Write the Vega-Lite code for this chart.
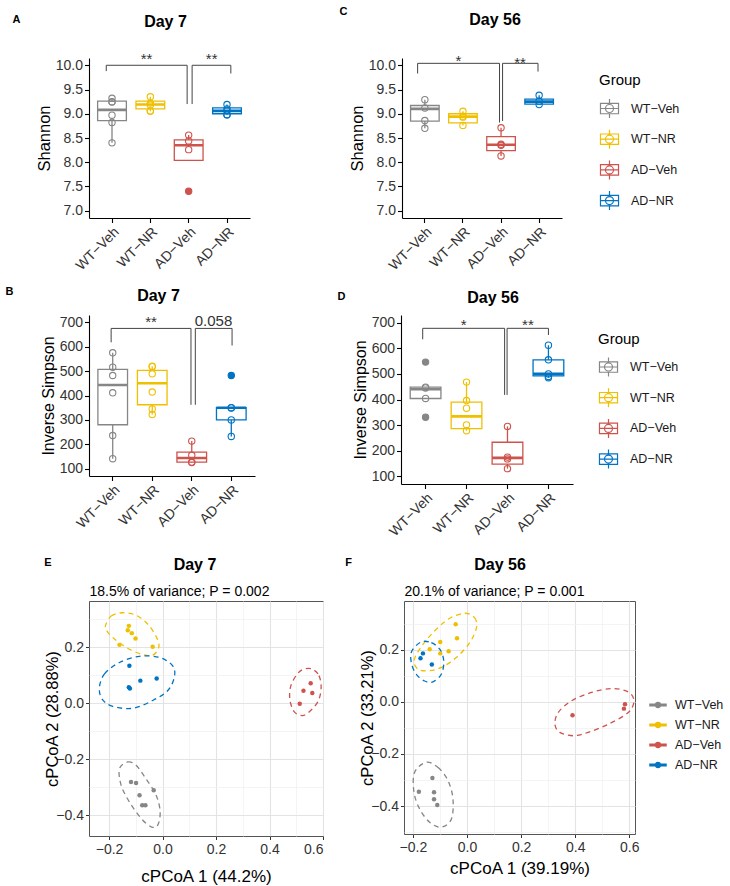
{
"$schema": "https://vega.github.io/schema/vega-lite/v6.json",
"background": "white",
"padding": {"left": 5, "top": 5, "right": 0, "bottom": 0},
"config": {
  "font": "Liberation Sans",
  "view": {"stroke": null},
  "title": {"font": "Liberation Sans", "fontSize": 16, "fontWeight": "bold", "color": "#000000", "anchor": "middle"},
  "axis": {"labelFont": "Liberation Sans", "titleFont": "Liberation Sans", "titleFontWeight": "normal", "titleColor": "#000000", "labelColor": "#333333", "labelOverlap": false},
  "legend": {"labelFont": "Liberation Sans", "titleFont": "Liberation Sans", "titleFontWeight": "normal", "titleColor": "#000000", "labelColor": "#1a1a1a"},
  "text": {"font": "Liberation Sans"}
},
"datasets": {
  "boxes": [
    {"panel": "A", "group": "WT−Veh", "lower": 8.40, "q1": 8.86, "med": 9.08, "q3": 9.26, "upper": 9.32},
    {"panel": "A", "group": "WT−NR", "lower": 9.05, "q1": 9.10, "med": 9.19, "q3": 9.26, "upper": 9.35},
    {"panel": "A", "group": "AD−Veh", "lower": 8.26, "q1": 8.04, "med": 8.35, "q3": 8.46, "upper": 8.56},
    {"panel": "A", "group": "AD−NR", "lower": 8.98, "q1": 9.00, "med": 9.06, "q3": 9.12, "upper": 9.19},
    {"panel": "C", "group": "WT−Veh", "lower": 8.70, "q1": 8.85, "med": 9.10, "q3": 9.17, "upper": 9.29},
    {"panel": "C", "group": "WT−NR", "lower": 8.76, "q1": 8.81, "med": 8.94, "q3": 9.00, "upper": 9.05},
    {"panel": "C", "group": "AD−Veh", "lower": 8.13, "q1": 8.24, "med": 8.36, "q3": 8.53, "upper": 8.71},
    {"panel": "C", "group": "AD−NR", "lower": 9.19, "q1": 9.20, "med": 9.25, "q3": 9.30, "upper": 9.38},
    {"panel": "B", "group": "WT−Veh", "lower": 141, "q1": 280, "med": 443, "q3": 507, "upper": 575},
    {"panel": "B", "group": "WT−NR", "lower": 322, "q1": 362, "med": 450, "q3": 503, "upper": 520},
    {"panel": "B", "group": "AD−Veh", "lower": 125, "q1": 127, "med": 144, "q3": 168, "upper": 213},
    {"panel": "B", "group": "AD−NR", "lower": 232, "q1": 300, "med": 350, "q3": 350, "upper": 350},
    {"panel": "D", "group": "WT−Veh", "lower": 404, "q1": 404, "med": 440, "q3": 448, "upper": 448},
    {"panel": "D", "group": "WT−NR", "lower": 278, "q1": 286, "med": 334, "q3": 390, "upper": 468},
    {"panel": "D", "group": "AD−Veh", "lower": 130, "q1": 148, "med": 172, "q3": 233, "upper": 295},
    {"panel": "D", "group": "AD−NR", "lower": 485, "q1": 492, "med": 500, "q3": 555, "upper": 612}
  ],
  "points": [
    {"panel": "A", "group": "WT−Veh", "value": 9.32, "kind": "obs"},
    {"panel": "A", "group": "WT−Veh", "value": 9.25, "kind": "obs"},
    {"panel": "A", "group": "WT−Veh", "value": 9.24, "kind": "obs"},
    {"panel": "A", "group": "WT−Veh", "value": 8.97, "kind": "obs"},
    {"panel": "A", "group": "WT−Veh", "value": 8.82, "kind": "obs"},
    {"panel": "A", "group": "WT−Veh", "value": 8.40, "kind": "obs"},
    {"panel": "A", "group": "WT−NR", "value": 9.35, "kind": "obs"},
    {"panel": "A", "group": "WT−NR", "value": 9.22, "kind": "obs"},
    {"panel": "A", "group": "WT−NR", "value": 9.18, "kind": "obs"},
    {"panel": "A", "group": "WT−NR", "value": 9.06, "kind": "obs"},
    {"panel": "A", "group": "WT−NR", "value": 9.05, "kind": "obs"},
    {"panel": "A", "group": "AD−Veh", "value": 8.56, "kind": "obs"},
    {"panel": "A", "group": "AD−Veh", "value": 8.44, "kind": "obs"},
    {"panel": "A", "group": "AD−Veh", "value": 8.26, "kind": "obs"},
    {"panel": "A", "group": "AD−Veh", "value": 7.40, "kind": "obs"},
    {"panel": "A", "group": "AD−Veh", "value": 7.40, "kind": "out"},
    {"panel": "A", "group": "AD−NR", "value": 9.19, "kind": "obs"},
    {"panel": "A", "group": "AD−NR", "value": 9.10, "kind": "obs"},
    {"panel": "A", "group": "AD−NR", "value": 9.06, "kind": "obs"},
    {"panel": "A", "group": "AD−NR", "value": 8.98, "kind": "obs"},
    {"panel": "A", "group": "AD−NR", "value": 8.98, "kind": "obs"},
    {"panel": "C", "group": "WT−Veh", "value": 9.29, "kind": "obs"},
    {"panel": "C", "group": "WT−Veh", "value": 9.12, "kind": "obs"},
    {"panel": "C", "group": "WT−Veh", "value": 8.86, "kind": "obs"},
    {"panel": "C", "group": "WT−Veh", "value": 8.70, "kind": "obs"},
    {"panel": "C", "group": "WT−NR", "value": 9.05, "kind": "obs"},
    {"panel": "C", "group": "WT−NR", "value": 8.95, "kind": "obs"},
    {"panel": "C", "group": "WT−NR", "value": 8.93, "kind": "obs"},
    {"panel": "C", "group": "WT−NR", "value": 8.76, "kind": "obs"},
    {"panel": "C", "group": "AD−Veh", "value": 8.71, "kind": "obs"},
    {"panel": "C", "group": "AD−Veh", "value": 8.37, "kind": "obs"},
    {"panel": "C", "group": "AD−Veh", "value": 8.35, "kind": "obs"},
    {"panel": "C", "group": "AD−Veh", "value": 8.13, "kind": "obs"},
    {"panel": "C", "group": "AD−NR", "value": 9.38, "kind": "obs"},
    {"panel": "C", "group": "AD−NR", "value": 9.26, "kind": "obs"},
    {"panel": "C", "group": "AD−NR", "value": 9.19, "kind": "obs"},
    {"panel": "B", "group": "WT−Veh", "value": 575, "kind": "obs"},
    {"panel": "B", "group": "WT−Veh", "value": 516, "kind": "obs"},
    {"panel": "B", "group": "WT−Veh", "value": 482, "kind": "obs"},
    {"panel": "B", "group": "WT−Veh", "value": 411, "kind": "obs"},
    {"panel": "B", "group": "WT−Veh", "value": 236, "kind": "obs"},
    {"panel": "B", "group": "WT−Veh", "value": 141, "kind": "obs"},
    {"panel": "B", "group": "WT−NR", "value": 520, "kind": "obs"},
    {"panel": "B", "group": "WT−NR", "value": 518, "kind": "obs"},
    {"panel": "B", "group": "WT−NR", "value": 489, "kind": "obs"},
    {"panel": "B", "group": "WT−NR", "value": 414, "kind": "obs"},
    {"panel": "B", "group": "WT−NR", "value": 345, "kind": "obs"},
    {"panel": "B", "group": "WT−NR", "value": 322, "kind": "obs"},
    {"panel": "B", "group": "AD−Veh", "value": 213, "kind": "obs"},
    {"panel": "B", "group": "AD−Veh", "value": 155, "kind": "obs"},
    {"panel": "B", "group": "AD−Veh", "value": 127, "kind": "obs"},
    {"panel": "B", "group": "AD−Veh", "value": 125, "kind": "obs"},
    {"panel": "B", "group": "AD−NR", "value": 482, "kind": "obs"},
    {"panel": "B", "group": "AD−NR", "value": 482, "kind": "out"},
    {"panel": "B", "group": "AD−NR", "value": 350, "kind": "obs"},
    {"panel": "B", "group": "AD−NR", "value": 349, "kind": "obs"},
    {"panel": "B", "group": "AD−NR", "value": 300, "kind": "obs"},
    {"panel": "B", "group": "AD−NR", "value": 232, "kind": "obs"},
    {"panel": "D", "group": "WT−Veh", "value": 546, "kind": "obs"},
    {"panel": "D", "group": "WT−Veh", "value": 546, "kind": "out"},
    {"panel": "D", "group": "WT−Veh", "value": 448, "kind": "obs"},
    {"panel": "D", "group": "WT−Veh", "value": 445, "kind": "obs"},
    {"panel": "D", "group": "WT−Veh", "value": 404, "kind": "obs"},
    {"panel": "D", "group": "WT−Veh", "value": 331, "kind": "obs"},
    {"panel": "D", "group": "WT−Veh", "value": 331, "kind": "out"},
    {"panel": "D", "group": "WT−NR", "value": 468, "kind": "obs"},
    {"panel": "D", "group": "WT−NR", "value": 396, "kind": "obs"},
    {"panel": "D", "group": "WT−NR", "value": 366, "kind": "obs"},
    {"panel": "D", "group": "WT−NR", "value": 301, "kind": "obs"},
    {"panel": "D", "group": "WT−NR", "value": 278, "kind": "obs"},
    {"panel": "D", "group": "AD−Veh", "value": 295, "kind": "obs"},
    {"panel": "D", "group": "AD−Veh", "value": 175, "kind": "obs"},
    {"panel": "D", "group": "AD−Veh", "value": 168, "kind": "obs"},
    {"panel": "D", "group": "AD−Veh", "value": 130, "kind": "obs"},
    {"panel": "D", "group": "AD−NR", "value": 612, "kind": "obs"},
    {"panel": "D", "group": "AD−NR", "value": 555, "kind": "obs"},
    {"panel": "D", "group": "AD−NR", "value": 500, "kind": "obs"},
    {"panel": "D", "group": "AD−NR", "value": 490, "kind": "obs"},
    {"panel": "D", "group": "AD−NR", "value": 485, "kind": "obs"}
  ],
  "brackets": [
    {"panel": "A", "x": 0.85, "x2": 2.96, "y": 10.0, "y2": 10.0},
    {"panel": "A", "x": 0.85, "x2": 0.85, "y": 9.88, "y2": 10.0},
    {"panel": "A", "x": 2.96, "x2": 2.96, "y": 9.20, "y2": 10.0},
    {"panel": "A", "x": 3.09, "x2": 4.10, "y": 10.0, "y2": 10.0},
    {"panel": "A", "x": 3.09, "x2": 3.09, "y": 9.20, "y2": 10.0},
    {"panel": "A", "x": 4.10, "x2": 4.10, "y": 9.83, "y2": 10.0},
    {"panel": "C", "x": 0.81, "x2": 2.96, "y": 10.04, "y2": 10.04},
    {"panel": "C", "x": 0.81, "x2": 0.81, "y": 9.83, "y2": 10.04},
    {"panel": "C", "x": 2.96, "x2": 2.96, "y": 8.82, "y2": 10.04},
    {"panel": "C", "x": 3.04, "x2": 3.97, "y": 10.04, "y2": 10.04},
    {"panel": "C", "x": 3.04, "x2": 3.04, "y": 8.85, "y2": 10.04},
    {"panel": "C", "x": 3.97, "x2": 3.97, "y": 9.87, "y2": 10.04},
    {"panel": "B", "x": 0.96, "x2": 2.98, "y": 675, "y2": 675},
    {"panel": "B", "x": 0.96, "x2": 0.96, "y": 618, "y2": 675},
    {"panel": "B", "x": 2.98, "x2": 2.98, "y": 362, "y2": 675},
    {"panel": "B", "x": 3.09, "x2": 4.02, "y": 675, "y2": 675},
    {"panel": "B", "x": 3.09, "x2": 3.09, "y": 362, "y2": 675},
    {"panel": "B", "x": 4.02, "x2": 4.02, "y": 605, "y2": 675},
    {"panel": "D", "x": 0.93, "x2": 2.93, "y": 678, "y2": 678},
    {"panel": "D", "x": 0.93, "x2": 0.93, "y": 635, "y2": 678},
    {"panel": "D", "x": 2.93, "x2": 2.93, "y": 418, "y2": 678},
    {"panel": "D", "x": 2.99, "x2": 4.0, "y": 678, "y2": 678},
    {"panel": "D", "x": 2.99, "x2": 2.99, "y": 418, "y2": 678},
    {"panel": "D", "x": 4.0, "x2": 4.0, "y": 652, "y2": 678}
  ],
  "labels": [
    {"panel": "A", "x": 1.9, "y": 10.03, "label": "**"},
    {"panel": "A", "x": 3.6, "y": 10.03, "label": "**"},
    {"panel": "C", "x": 1.88, "y": 9.98, "label": "*"},
    {"panel": "C", "x": 3.5, "y": 9.95, "label": "**"},
    {"panel": "B", "x": 1.97, "y": 681, "label": "**"},
    {"panel": "B", "x": 3.55, "y": 685, "label": "0.058"},
    {"panel": "D", "x": 1.93, "y": 670, "label": "*"},
    {"panel": "D", "x": 3.5, "y": 670, "label": "**"}
  ],
  "pcoa": [
    {"panel": "E", "group": "WT−NR", "x": -0.126, "y": 0.277},
    {"panel": "E", "group": "WT−NR", "x": -0.130, "y": 0.261},
    {"panel": "E", "group": "WT−NR", "x": -0.115, "y": 0.251},
    {"panel": "E", "group": "WT−NR", "x": -0.101, "y": 0.232},
    {"panel": "E", "group": "WT−NR", "x": -0.161, "y": 0.209},
    {"panel": "E", "group": "WT−NR", "x": -0.037, "y": 0.202},
    {"panel": "E", "group": "AD−NR", "x": -0.124, "y": 0.134},
    {"panel": "E", "group": "AD−NR", "x": -0.083, "y": 0.081},
    {"panel": "E", "group": "AD−NR", "x": -0.022, "y": 0.089},
    {"panel": "E", "group": "AD−NR", "x": -0.126, "y": 0.057},
    {"panel": "E", "group": "AD−NR", "x": -0.122, "y": 0.053},
    {"panel": "E", "group": "AD−Veh", "x": 0.554, "y": 0.072},
    {"panel": "E", "group": "AD−Veh", "x": 0.527, "y": 0.045},
    {"panel": "E", "group": "AD−Veh", "x": 0.560, "y": 0.037},
    {"panel": "E", "group": "AD−Veh", "x": 0.513, "y": -0.002},
    {"panel": "E", "group": "WT−Veh", "x": -0.118, "y": -0.282},
    {"panel": "E", "group": "WT−Veh", "x": -0.099, "y": -0.285},
    {"panel": "E", "group": "WT−Veh", "x": -0.086, "y": -0.329},
    {"panel": "E", "group": "WT−Veh", "x": -0.033, "y": -0.311},
    {"panel": "E", "group": "WT−Veh", "x": -0.076, "y": -0.365},
    {"panel": "E", "group": "WT−Veh", "x": -0.064, "y": -0.365},
    {"panel": "F", "group": "WT−NR", "x": -0.042, "y": 0.298},
    {"panel": "F", "group": "WT−NR", "x": -0.037, "y": 0.244},
    {"panel": "F", "group": "WT−NR", "x": -0.099, "y": 0.230},
    {"panel": "F", "group": "WT−NR", "x": -0.068, "y": 0.194},
    {"panel": "F", "group": "WT−NR", "x": -0.099, "y": 0.186},
    {"panel": "F", "group": "WT−NR", "x": -0.138, "y": 0.202},
    {"panel": "F", "group": "AD−NR", "x": -0.163, "y": 0.186},
    {"panel": "F", "group": "AD−NR", "x": -0.172, "y": 0.167},
    {"panel": "F", "group": "AD−NR", "x": -0.130, "y": 0.143},
    {"panel": "F", "group": "AD−Veh", "x": 0.390, "y": -0.051},
    {"panel": "F", "group": "AD−Veh", "x": 0.584, "y": -0.009},
    {"panel": "F", "group": "AD−Veh", "x": 0.580, "y": -0.026},
    {"panel": "F", "group": "WT−Veh", "x": -0.128, "y": -0.292},
    {"panel": "F", "group": "WT−Veh", "x": -0.178, "y": -0.345},
    {"panel": "F", "group": "WT−Veh", "x": -0.122, "y": -0.347},
    {"panel": "F", "group": "WT−Veh", "x": -0.122, "y": -0.374},
    {"panel": "F", "group": "WT−Veh", "x": -0.110, "y": -0.396}
  ],
  "ellipse": [
    {"panel": "E", "group": "WT−NR", "i": 0, "x": -0.213, "y": 0.279},
    {"panel": "E", "group": "WT−NR", "i": 1, "x": -0.192, "y": 0.312},
    {"panel": "E", "group": "WT−NR", "i": 2, "x": -0.149, "y": 0.324},
    {"panel": "E", "group": "WT−NR", "i": 3, "x": -0.099, "y": 0.315},
    {"panel": "E", "group": "WT−NR", "i": 4, "x": -0.055, "y": 0.283},
    {"panel": "E", "group": "WT−NR", "i": 5, "x": -0.022, "y": 0.235},
    {"panel": "E", "group": "WT−NR", "i": 6, "x": -0.014, "y": 0.200},
    {"panel": "E", "group": "WT−NR", "i": 7, "x": -0.037, "y": 0.172},
    {"panel": "E", "group": "WT−NR", "i": 8, "x": -0.080, "y": 0.176},
    {"panel": "E", "group": "WT−NR", "i": 9, "x": -0.136, "y": 0.200},
    {"panel": "E", "group": "WT−NR", "i": 10, "x": -0.186, "y": 0.235},
    {"panel": "E", "group": "WT−NR", "i": 11, "x": -0.208, "y": 0.259},
    {"panel": "E", "group": "AD−NR", "i": 0, "x": -0.236, "y": 0.057},
    {"panel": "E", "group": "AD−NR", "i": 1, "x": -0.217, "y": 0.105},
    {"panel": "E", "group": "AD−NR", "i": 2, "x": -0.161, "y": 0.146},
    {"panel": "E", "group": "AD−NR", "i": 3, "x": -0.086, "y": 0.168},
    {"panel": "E", "group": "AD−NR", "i": 4, "x": -0.012, "y": 0.164},
    {"panel": "E", "group": "AD−NR", "i": 5, "x": 0.038, "y": 0.134},
    {"panel": "E", "group": "AD−NR", "i": 6, "x": 0.044, "y": 0.093},
    {"panel": "E", "group": "AD−NR", "i": 7, "x": 0.019, "y": 0.045},
    {"panel": "E", "group": "AD−NR", "i": 8, "x": -0.037, "y": 0.010},
    {"panel": "E", "group": "AD−NR", "i": 9, "x": -0.111, "y": -0.018},
    {"panel": "E", "group": "AD−NR", "i": 10, "x": -0.186, "y": -0.011},
    {"panel": "E", "group": "AD−NR", "i": 11, "x": -0.226, "y": 0.015},
    {"panel": "E", "group": "AD−Veh", "i": 0, "x": 0.560, "y": 0.122},
    {"panel": "E", "group": "AD−Veh", "i": 1, "x": 0.585, "y": 0.099},
    {"panel": "E", "group": "AD−Veh", "i": 2, "x": 0.593, "y": 0.057},
    {"panel": "E", "group": "AD−Veh", "i": 3, "x": 0.583, "y": 0.010},
    {"panel": "E", "group": "AD−Veh", "i": 4, "x": 0.554, "y": -0.026},
    {"panel": "E", "group": "AD−Veh", "i": 5, "x": 0.523, "y": -0.044},
    {"panel": "E", "group": "AD−Veh", "i": 6, "x": 0.492, "y": -0.030},
    {"panel": "E", "group": "AD−Veh", "i": 7, "x": 0.476, "y": 0.015},
    {"panel": "E", "group": "AD−Veh", "i": 8, "x": 0.480, "y": 0.063},
    {"panel": "E", "group": "AD−Veh", "i": 9, "x": 0.504, "y": 0.105},
    {"panel": "E", "group": "AD−Veh", "i": 10, "x": 0.529, "y": 0.122},
    {"panel": "E", "group": "WT−Veh", "i": 0, "x": -0.161, "y": -0.234},
    {"panel": "E", "group": "WT−Veh", "i": 1, "x": -0.130, "y": -0.210},
    {"panel": "E", "group": "WT−Veh", "i": 2, "x": -0.099, "y": -0.222},
    {"panel": "E", "group": "WT−Veh", "i": 3, "x": -0.062, "y": -0.270},
    {"panel": "E", "group": "WT−Veh", "i": 4, "x": -0.024, "y": -0.329},
    {"panel": "E", "group": "WT−Veh", "i": 5, "x": -0.009, "y": -0.388},
    {"panel": "E", "group": "WT−Veh", "i": 6, "x": -0.018, "y": -0.436},
    {"panel": "E", "group": "WT−Veh", "i": 7, "x": -0.043, "y": -0.442},
    {"panel": "E", "group": "WT−Veh", "i": 8, "x": -0.080, "y": -0.412},
    {"panel": "E", "group": "WT−Veh", "i": 9, "x": -0.124, "y": -0.353},
    {"panel": "E", "group": "WT−Veh", "i": 10, "x": -0.155, "y": -0.293},
    {"panel": "F", "group": "WT−NR", "i": 0, "x": -0.009, "y": 0.340},
    {"panel": "F", "group": "WT−NR", "i": 1, "x": 0.028, "y": 0.323},
    {"panel": "F", "group": "WT−NR", "i": 2, "x": 0.035, "y": 0.285},
    {"panel": "F", "group": "WT−NR", "i": 3, "x": 0.010, "y": 0.227},
    {"panel": "F", "group": "WT−NR", "i": 4, "x": -0.040, "y": 0.170},
    {"panel": "F", "group": "WT−NR", "i": 5, "x": -0.095, "y": 0.132},
    {"panel": "F", "group": "WT−NR", "i": 6, "x": -0.144, "y": 0.119},
    {"panel": "F", "group": "WT−NR", "i": 7, "x": -0.181, "y": 0.125},
    {"panel": "F", "group": "WT−NR", "i": 8, "x": -0.196, "y": 0.157},
    {"panel": "F", "group": "WT−NR", "i": 9, "x": -0.175, "y": 0.202},
    {"panel": "F", "group": "WT−NR", "i": 10, "x": -0.132, "y": 0.259},
    {"panel": "F", "group": "WT−NR", "i": 11, "x": -0.070, "y": 0.317},
    {"panel": "F", "group": "AD−NR", "i": 0, "x": -0.169, "y": 0.230},
    {"panel": "F", "group": "AD−NR", "i": 1, "x": -0.132, "y": 0.227},
    {"panel": "F", "group": "AD−NR", "i": 2, "x": -0.101, "y": 0.202},
    {"panel": "F", "group": "AD−NR", "i": 3, "x": -0.086, "y": 0.157},
    {"panel": "F", "group": "AD−NR", "i": 4, "x": -0.095, "y": 0.106},
    {"panel": "F", "group": "AD−NR", "i": 5, "x": -0.126, "y": 0.077},
    {"panel": "F", "group": "AD−NR", "i": 6, "x": -0.157, "y": 0.080},
    {"panel": "F", "group": "AD−NR", "i": 7, "x": -0.188, "y": 0.106},
    {"panel": "F", "group": "AD−NR", "i": 8, "x": -0.206, "y": 0.151},
    {"panel": "F", "group": "AD−NR", "i": 9, "x": -0.204, "y": 0.195},
    {"panel": "F", "group": "AD−Veh", "i": 0, "x": 0.325, "y": -0.086},
    {"panel": "F", "group": "AD−Veh", "i": 1, "x": 0.337, "y": -0.041},
    {"panel": "F", "group": "AD−Veh", "i": 2, "x": 0.386, "y": 0.004},
    {"panel": "F", "group": "AD−Veh", "i": 3, "x": 0.460, "y": 0.036},
    {"panel": "F", "group": "AD−Veh", "i": 4, "x": 0.535, "y": 0.051},
    {"panel": "F", "group": "AD−Veh", "i": 5, "x": 0.596, "y": 0.038},
    {"panel": "F", "group": "AD−Veh", "i": 6, "x": 0.617, "y": 0.004},
    {"panel": "F", "group": "AD−Veh", "i": 7, "x": 0.596, "y": -0.041},
    {"panel": "F", "group": "AD−Veh", "i": 8, "x": 0.522, "y": -0.086},
    {"panel": "F", "group": "AD−Veh", "i": 9, "x": 0.448, "y": -0.117},
    {"panel": "F", "group": "AD−Veh", "i": 10, "x": 0.393, "y": -0.130},
    {"panel": "F", "group": "AD−Veh", "i": 11, "x": 0.343, "y": -0.117},
    {"panel": "F", "group": "WT−Veh", "i": 0, "x": -0.151, "y": -0.232},
    {"panel": "F", "group": "WT−Veh", "i": 1, "x": -0.107, "y": -0.252},
    {"panel": "F", "group": "WT−Veh", "i": 2, "x": -0.070, "y": -0.303},
    {"panel": "F", "group": "WT−Veh", "i": 3, "x": -0.052, "y": -0.373},
    {"panel": "F", "group": "WT−Veh", "i": 4, "x": -0.058, "y": -0.450},
    {"panel": "F", "group": "WT−Veh", "i": 5, "x": -0.095, "y": -0.481},
    {"panel": "F", "group": "WT−Veh", "i": 6, "x": -0.138, "y": -0.462},
    {"panel": "F", "group": "WT−Veh", "i": 7, "x": -0.175, "y": -0.411},
    {"panel": "F", "group": "WT−Veh", "i": 8, "x": -0.196, "y": -0.347},
    {"panel": "F", "group": "WT−Veh", "i": 9, "x": -0.194, "y": -0.271}
  ]
},
"spacing": 17,
"resolve": {"scale": {"color": "independent", "stroke": "independent"}, "legend": {"color": "independent", "stroke": "independent"}},
"vconcat": [
 {
 "spacing": 12,
 "resolve": {"scale": {"color": "independent", "stroke": "independent"}, "legend": {"color": "independent", "stroke": "independent"}},
 "vconcat": [
 {
  "spacing": 89,
  "resolve": {"scale": {"color": "independent", "stroke": "independent"}, "legend": {"color": "independent", "stroke": "independent"}},
  "hconcat": [
   {
    "width": 161, "height": 160,
    "view": {"stroke": null},
    "resolve": {"scale": {"x": "independent"}},
    "layer": [
     {"layer": [
      {"data": {"name": "boxes"}, "transform": [{"filter": "datum.panel === 'A'"}],
       "mark": {"type": "rule", "strokeWidth": 1.3},
       "encoding": {
        "x": {"field": "group", "type": "nominal", "scale": {"domain": ["WT−Veh", "WT−NR", "AD−Veh", "AD−NR"], "paddingInner": 0.25, "paddingOuter": 0.225},
              "axis": {"title": "A", "titleX": -77, "titleY": -205, "titleAngle": 0, "titleAlign": "left", "titleBaseline": "top", "titleFontSize": 11, "titleFontWeight": "bold", "labelAngle": -45, "labelAlign": "right", "labelBaseline": "top", "labelFontSize": 14, "labelPadding": 2, "tickSize": 4.5, "tickWidth": 1.1, "tickColor": "#000000", "domainColor": "#000000", "domainWidth": 1.1}},
        "y": {"field": "lower", "type": "quantitative", "scale": {"domain": [6.85, 10.15], "nice": false, "zero": false},
              "axis": {"title": "Shannon", "titleFontSize": 16.5, "titlePadding": 3, "values": [7, 7.5, 8, 8.5, 9, 9.5, 10], "tickCount": 7, "format": ".1f", "labelOverlap": false, "labelFontSize": 14, "labelPadding": 2, "tickSize": 4.5, "tickWidth": 1.1, "tickColor": "#000000", "domainColor": "#000000", "domainWidth": 1.1, "grid": false}},
        "y2": {"field": "upper"},
        "stroke": {"field": "group", "type": "nominal", "scale": {"domain": ["WT−Veh", "WT−NR", "AD−Veh", "AD−NR"], "range": ["#868686", "#EFC000", "#CD534C", "#0073C2"]}, "legend": null}
       }},
      {"data": {"name": "boxes"}, "transform": [{"filter": "datum.panel === 'A'"}],
       "mark": {"type": "bar", "fill": "#ffffff", "strokeWidth": 1.3},
       "encoding": {
        "x": {"field": "group", "type": "nominal"},
        "y": {"field": "q1", "type": "quantitative", "axis": {"title": "Shannon", "titleFontSize": 16.5, "titlePadding": 3, "values": [7, 7.5, 8, 8.5, 9, 9.5, 10], "tickCount": 7, "format": ".1f", "labelOverlap": false, "labelFontSize": 14, "labelPadding": 2, "tickSize": 4.5, "tickWidth": 1.1, "tickColor": "#000000", "domainColor": "#000000", "domainWidth": 1.1, "grid": false}},
        "y2": {"field": "q3"},
        "stroke": {"field": "group", "type": "nominal", "legend": null}
       }},
      {"data": {"name": "boxes"}, "transform": [{"filter": "datum.panel === 'A'"}],
       "mark": {"type": "bar", "fillOpacity": 0, "strokeWidth": 2.6},
       "encoding": {
        "x": {"field": "group", "type": "nominal"},
        "y": {"field": "med", "type": "quantitative", "axis": {"title": "Shannon", "titleFontSize": 16.5, "titlePadding": 3, "values": [7, 7.5, 8, 8.5, 9, 9.5, 10], "tickCount": 7, "format": ".1f", "labelOverlap": false, "labelFontSize": 14, "labelPadding": 2, "tickSize": 4.5, "tickWidth": 1.1, "tickColor": "#000000", "domainColor": "#000000", "domainWidth": 1.1, "grid": false}},
        "y2": {"field": "med"},
        "stroke": {"field": "group", "type": "nominal", "legend": null}
       }},
      {"data": {"name": "points"}, "transform": [{"filter": "datum.panel === 'A' && datum.kind === 'out'"}],
       "mark": {"type": "point", "filled": false, "size": 10, "strokeWidth": 3.2, "opacity": 1},
       "encoding": {
        "x": {"field": "group", "type": "nominal"},
        "y": {"field": "value", "type": "quantitative", "axis": {"title": "Shannon", "titleFontSize": 16.5, "titlePadding": 3, "values": [7, 7.5, 8, 8.5, 9, 9.5, 10], "tickCount": 7, "format": ".1f", "labelOverlap": false, "labelFontSize": 14, "labelPadding": 2, "tickSize": 4.5, "tickWidth": 1.1, "tickColor": "#000000", "domainColor": "#000000", "domainWidth": 1.1, "grid": false}},
        "stroke": {"field": "group", "type": "nominal", "legend": null}
       }},
      {"data": {"name": "points"}, "transform": [{"filter": "datum.panel === 'A' && datum.kind === 'obs'"}],
       "mark": {"type": "point", "filled": false, "size": 40, "strokeWidth": 1.1, "opacity": 1},
       "encoding": {
        "x": {"field": "group", "type": "nominal"},
        "y": {"field": "value", "type": "quantitative", "axis": {"title": "Shannon", "titleFontSize": 16.5, "titlePadding": 3, "values": [7, 7.5, 8, 8.5, 9, 9.5, 10], "tickCount": 7, "format": ".1f", "labelOverlap": false, "labelFontSize": 14, "labelPadding": 2, "tickSize": 4.5, "tickWidth": 1.1, "tickColor": "#000000", "domainColor": "#000000", "domainWidth": 1.1, "grid": false}},
        "stroke": {"field": "group", "type": "nominal", "legend": null}
       }}
     ]},
     {"layer": [
      {"data": {"name": "brackets"}, "transform": [{"filter": "datum.panel === 'A'"}],
       "mark": {"type": "rule", "color": "#444444", "strokeWidth": 1},
       "encoding": {
        "x": {"field": "x", "type": "quantitative", "scale": {"domain": [0.4, 4.6], "nice": false, "zero": false},
              "axis": {"orient": "top", "labels": false, "ticks": false, "domain": false, "grid": false, "title": "Day 7", "titleX": 76, "titleY": -32, "titleAngle": 0, "titleAlign": "center", "titleBaseline": "alphabetic", "titleFontSize": 16, "titleFontWeight": "bold"}},
        "x2": {"field": "x2"},
        "y": {"field": "y", "type": "quantitative", "scale": {"domain": [6.85, 10.15], "nice": false, "zero": false}, "axis": {"title": "Shannon", "titleFontSize": 16.5, "titlePadding": 3, "values": [7, 7.5, 8, 8.5, 9, 9.5, 10], "tickCount": 7, "format": ".1f", "labelOverlap": false, "labelFontSize": 14, "labelPadding": 2, "tickSize": 4.5, "tickWidth": 1.1, "tickColor": "#000000", "domainColor": "#000000", "domainWidth": 1.1, "grid": false}},
        "y2": {"field": "y2"}
       }},
      {"data": {"name": "labels"}, "transform": [{"filter": "datum.panel === 'A'"}],
       "mark": {"type": "text", "fontSize": 15, "baseline": "alphabetic", "color": "#333333"},
       "encoding": {
        "x": {"field": "x", "type": "quantitative", "axis": {"orient": "top", "labels": false, "ticks": false, "domain": false, "grid": false, "title": "Day 7", "titleX": 76, "titleY": -32, "titleAngle": 0, "titleAlign": "center", "titleBaseline": "alphabetic", "titleFontSize": 16, "titleFontWeight": "bold"}},
        "y": {"field": "y", "type": "quantitative", "axis": {"title": "Shannon", "titleFontSize": 16.5, "titlePadding": 3, "values": [7, 7.5, 8, 8.5, 9, 9.5, 10], "tickCount": 7, "format": ".1f", "labelOverlap": false, "labelFontSize": 14, "labelPadding": 2, "tickSize": 4.5, "tickWidth": 1.1, "tickColor": "#000000", "domainColor": "#000000", "domainWidth": 1.1, "grid": false}},
        "text": {"field": "label"}
       }}
     ]}
    ]
   },
   {
    "width": 160, "height": 160,
    "view": {"stroke": null},
    "resolve": {"scale": {"x": "independent"}},
    "layer": [
     {"layer": [
      {"data": {"name": "boxes"}, "transform": [{"filter": "datum.panel === 'C'"}],
       "mark": {"type": "rule", "strokeWidth": 1.3},
       "encoding": {
        "x": {"field": "group", "type": "nominal", "scale": {"domain": ["WT−Veh", "WT−NR", "AD−Veh", "AD−NR"], "paddingInner": 0.25, "paddingOuter": 0.225},
              "axis": {"title": "C", "titleX": -63, "titleY": -213, "titleAngle": 0, "titleAlign": "left", "titleBaseline": "top", "titleFontSize": 11, "titleFontWeight": "bold", "labelAngle": -45, "labelAlign": "right", "labelBaseline": "top", "labelFontSize": 14, "labelPadding": 2, "tickSize": 4.5, "tickWidth": 1.1, "tickColor": "#000000", "domainColor": "#000000", "domainWidth": 1.1}},
        "y": {"field": "lower", "type": "quantitative", "scale": {"domain": [6.85, 10.15], "nice": false, "zero": false},
              "axis": {"title": "Shannon", "titleFontSize": 16.5, "titlePadding": 3, "values": [7, 7.5, 8, 8.5, 9, 9.5, 10], "tickCount": 7, "format": ".1f", "labelOverlap": false, "labelFontSize": 14, "labelPadding": 2, "tickSize": 4.5, "tickWidth": 1.1, "tickColor": "#000000", "domainColor": "#000000", "domainWidth": 1.1, "grid": false}},
        "y2": {"field": "upper"},
        "stroke": {"field": "group", "type": "nominal", "scale": {"domain": ["WT−Veh", "WT−NR", "AD−Veh", "AD−NR"], "range": ["#868686", "#EFC000", "#CD534C", "#0073C2"]}}
       }},
      {"data": {"name": "boxes"}, "transform": [{"filter": "datum.panel === 'C'"}],
       "mark": {"type": "bar", "fill": "#ffffff", "strokeWidth": 1.3},
       "encoding": {
        "x": {"field": "group", "type": "nominal"},
        "y": {"field": "q1", "type": "quantitative", "axis": {"title": "Shannon", "titleFontSize": 16.5, "titlePadding": 3, "values": [7, 7.5, 8, 8.5, 9, 9.5, 10], "tickCount": 7, "format": ".1f", "labelOverlap": false, "labelFontSize": 14, "labelPadding": 2, "tickSize": 4.5, "tickWidth": 1.1, "tickColor": "#000000", "domainColor": "#000000", "domainWidth": 1.1, "grid": false}},
        "y2": {"field": "q3"},
        "stroke": {"field": "group", "type": "nominal",
                   "legend": {"orient": "none", "legendX": 197, "legendY": 15, "title": "Group", "titleFontSize": 15, "titlePadding": 10, "labelFontSize": 12.5, "labelOffset": 11, "rowPadding": 5.7, "symbolType": "M-0.95,-0.55H0.95V0.55H-0.95Z M0,-1V-0.55 M0,0.55V1 M-0.95,0H0.95 M0.42,0A0.42,0.42 0 1,1 -0.42,0A0.42,0.42 0 1,1 0.42,0Z", "symbolSize": 361, "symbolStrokeWidth": 1.2, "symbolFillColor": "#ffffff"}}
       }},
      {"data": {"name": "boxes"}, "transform": [{"filter": "datum.panel === 'C'"}],
       "mark": {"type": "bar", "fillOpacity": 0, "strokeWidth": 2.6},
       "encoding": {
        "x": {"field": "group", "type": "nominal"},
        "y": {"field": "med", "type": "quantitative", "axis": {"title": "Shannon", "titleFontSize": 16.5, "titlePadding": 3, "values": [7, 7.5, 8, 8.5, 9, 9.5, 10], "tickCount": 7, "format": ".1f", "labelOverlap": false, "labelFontSize": 14, "labelPadding": 2, "tickSize": 4.5, "tickWidth": 1.1, "tickColor": "#000000", "domainColor": "#000000", "domainWidth": 1.1, "grid": false}},
        "y2": {"field": "med"},
        "stroke": {"field": "group", "type": "nominal"}
       }},
      {"data": {"name": "points"}, "transform": [{"filter": "datum.panel === 'C' && datum.kind === 'obs'"}],
       "mark": {"type": "point", "filled": false, "size": 40, "strokeWidth": 1.1, "opacity": 1},
       "encoding": {
        "x": {"field": "group", "type": "nominal"},
        "y": {"field": "value", "type": "quantitative", "axis": {"title": "Shannon", "titleFontSize": 16.5, "titlePadding": 3, "values": [7, 7.5, 8, 8.5, 9, 9.5, 10], "tickCount": 7, "format": ".1f", "labelOverlap": false, "labelFontSize": 14, "labelPadding": 2, "tickSize": 4.5, "tickWidth": 1.1, "tickColor": "#000000", "domainColor": "#000000", "domainWidth": 1.1, "grid": false}},
        "stroke": {"field": "group", "type": "nominal"}
       }}
     ]},
     {"layer": [
      {"data": {"name": "brackets"}, "transform": [{"filter": "datum.panel === 'C'"}],
       "mark": {"type": "rule", "color": "#444444", "strokeWidth": 1},
       "encoding": {
        "x": {"field": "x", "type": "quantitative", "scale": {"domain": [0.4, 4.6], "nice": false, "zero": false},
              "axis": {"orient": "top", "labels": false, "ticks": false, "domain": false, "grid": false, "title": "Day 56", "titleX": 92.5, "titleY": -34, "titleAngle": 0, "titleAlign": "center", "titleBaseline": "alphabetic", "titleFontSize": 16, "titleFontWeight": "bold"}},
        "x2": {"field": "x2"},
        "y": {"field": "y", "type": "quantitative", "scale": {"domain": [6.85, 10.15], "nice": false, "zero": false}, "axis": {"title": "Shannon", "titleFontSize": 16.5, "titlePadding": 3, "values": [7, 7.5, 8, 8.5, 9, 9.5, 10], "tickCount": 7, "format": ".1f", "labelOverlap": false, "labelFontSize": 14, "labelPadding": 2, "tickSize": 4.5, "tickWidth": 1.1, "tickColor": "#000000", "domainColor": "#000000", "domainWidth": 1.1, "grid": false}},
        "y2": {"field": "y2"}
       }},
      {"data": {"name": "labels"}, "transform": [{"filter": "datum.panel === 'C'"}],
       "mark": {"type": "text", "fontSize": 15, "baseline": "alphabetic", "color": "#333333"},
       "encoding": {
        "x": {"field": "x", "type": "quantitative", "axis": {"orient": "top", "labels": false, "ticks": false, "domain": false, "grid": false, "title": "Day 56", "titleX": 92.5, "titleY": -34, "titleAngle": 0, "titleAlign": "center", "titleBaseline": "alphabetic", "titleFontSize": 16, "titleFontWeight": "bold"}},
        "y": {"field": "y", "type": "quantitative", "axis": {"title": "Shannon", "titleFontSize": 16.5, "titlePadding": 3, "values": [7, 7.5, 8, 8.5, 9, 9.5, 10], "tickCount": 7, "format": ".1f", "labelOverlap": false, "labelFontSize": 14, "labelPadding": 2, "tickSize": 4.5, "tickWidth": 1.1, "tickColor": "#000000", "domainColor": "#000000", "domainWidth": 1.1, "grid": false}},
        "text": {"field": "label"}
       }}
     ]}
    ]
   }
  ]
 },
 {
  "spacing": 82,
  "resolve": {"scale": {"color": "independent", "stroke": "independent"}, "legend": {"color": "independent", "stroke": "independent"}},
  "hconcat": [
   {
    "width": 166, "height": 161,
    "view": {"stroke": null},
    "resolve": {"scale": {"x": "independent"}},
    "layer": [
     {"layer": [
      {"data": {"name": "boxes"}, "transform": [{"filter": "datum.panel === 'B'"}],
       "mark": {"type": "rule", "strokeWidth": 1.3},
       "encoding": {
        "x": {"field": "group", "type": "nominal", "scale": {"domain": ["WT−Veh", "WT−NR", "AD−Veh", "AD−NR"], "paddingInner": 0.25, "paddingOuter": 0.225},
              "axis": {"title": "B", "titleX": -84, "titleY": -191, "titleAngle": 0, "titleAlign": "left", "titleBaseline": "top", "titleFontSize": 11, "titleFontWeight": "bold", "labelAngle": -45, "labelAlign": "right", "labelBaseline": "top", "labelFontSize": 14, "labelPadding": 2, "tickSize": 4.5, "tickWidth": 1.1, "tickColor": "#000000", "domainColor": "#000000", "domainWidth": 1.1}},
        "y": {"field": "lower", "type": "quantitative", "scale": {"domain": [70, 730], "nice": false, "zero": false},
              "axis": {"title": "Inverse Simpson", "titleFontSize": 16, "titlePadding": 3, "values": [100, 200, 300, 400, 500, 600, 700], "tickCount": 7, "format": "d", "labelOverlap": false, "labelFontSize": 14, "labelPadding": 2, "tickSize": 4.5, "tickWidth": 1.1, "tickColor": "#000000", "domainColor": "#000000", "domainWidth": 1.1, "grid": false}},
        "y2": {"field": "upper"},
        "stroke": {"field": "group", "type": "nominal", "scale": {"domain": ["WT−Veh", "WT−NR", "AD−Veh", "AD−NR"], "range": ["#868686", "#EFC000", "#CD534C", "#0073C2"]}, "legend": null}
       }},
      {"data": {"name": "boxes"}, "transform": [{"filter": "datum.panel === 'B'"}],
       "mark": {"type": "bar", "fill": "#ffffff", "strokeWidth": 1.3},
       "encoding": {
        "x": {"field": "group", "type": "nominal"},
        "y": {"field": "q1", "type": "quantitative", "axis": {"title": "Inverse Simpson", "titleFontSize": 16, "titlePadding": 3, "values": [100, 200, 300, 400, 500, 600, 700], "tickCount": 7, "format": "d", "labelOverlap": false, "labelFontSize": 14, "labelPadding": 2, "tickSize": 4.5, "tickWidth": 1.1, "tickColor": "#000000", "domainColor": "#000000", "domainWidth": 1.1, "grid": false}},
        "y2": {"field": "q3"},
        "stroke": {"field": "group", "type": "nominal", "legend": null}
       }},
      {"data": {"name": "boxes"}, "transform": [{"filter": "datum.panel === 'B'"}],
       "mark": {"type": "bar", "fillOpacity": 0, "strokeWidth": 2.6},
       "encoding": {
        "x": {"field": "group", "type": "nominal"},
        "y": {"field": "med", "type": "quantitative", "axis": {"title": "Inverse Simpson", "titleFontSize": 16, "titlePadding": 3, "values": [100, 200, 300, 400, 500, 600, 700], "tickCount": 7, "format": "d", "labelOverlap": false, "labelFontSize": 14, "labelPadding": 2, "tickSize": 4.5, "tickWidth": 1.1, "tickColor": "#000000", "domainColor": "#000000", "domainWidth": 1.1, "grid": false}},
        "y2": {"field": "med"},
        "stroke": {"field": "group", "type": "nominal", "legend": null}
       }},
      {"data": {"name": "points"}, "transform": [{"filter": "datum.panel === 'B' && datum.kind === 'out'"}],
       "mark": {"type": "point", "filled": false, "size": 10, "strokeWidth": 3.2, "opacity": 1},
       "encoding": {
        "x": {"field": "group", "type": "nominal"},
        "y": {"field": "value", "type": "quantitative", "axis": {"title": "Inverse Simpson", "titleFontSize": 16, "titlePadding": 3, "values": [100, 200, 300, 400, 500, 600, 700], "tickCount": 7, "format": "d", "labelOverlap": false, "labelFontSize": 14, "labelPadding": 2, "tickSize": 4.5, "tickWidth": 1.1, "tickColor": "#000000", "domainColor": "#000000", "domainWidth": 1.1, "grid": false}},
        "stroke": {"field": "group", "type": "nominal", "legend": null}
       }},
      {"data": {"name": "points"}, "transform": [{"filter": "datum.panel === 'B' && datum.kind === 'obs'"}],
       "mark": {"type": "point", "filled": false, "size": 40, "strokeWidth": 1.1, "opacity": 1},
       "encoding": {
        "x": {"field": "group", "type": "nominal"},
        "y": {"field": "value", "type": "quantitative", "axis": {"title": "Inverse Simpson", "titleFontSize": 16, "titlePadding": 3, "values": [100, 200, 300, 400, 500, 600, 700], "tickCount": 7, "format": "d", "labelOverlap": false, "labelFontSize": 14, "labelPadding": 2, "tickSize": 4.5, "tickWidth": 1.1, "tickColor": "#000000", "domainColor": "#000000", "domainWidth": 1.1, "grid": false}},
        "stroke": {"field": "group", "type": "nominal", "legend": null}
       }}
     ]},
     {"layer": [
      {"data": {"name": "brackets"}, "transform": [{"filter": "datum.panel === 'B'"}],
       "mark": {"type": "rule", "color": "#444444", "strokeWidth": 1},
       "encoding": {
        "x": {"field": "x", "type": "quantitative", "scale": {"domain": [0.4, 4.6], "nice": false, "zero": false},
              "axis": {"orient": "top", "labels": false, "ticks": false, "domain": false, "grid": false, "title": "Day 7", "titleX": 69, "titleY": -15, "titleAngle": 0, "titleAlign": "center", "titleBaseline": "alphabetic", "titleFontSize": 16, "titleFontWeight": "bold"}},
        "x2": {"field": "x2"},
        "y": {"field": "y", "type": "quantitative", "scale": {"domain": [70, 730], "nice": false, "zero": false}, "axis": {"title": "Inverse Simpson", "titleFontSize": 16, "titlePadding": 3, "values": [100, 200, 300, 400, 500, 600, 700], "tickCount": 7, "format": "d", "labelOverlap": false, "labelFontSize": 14, "labelPadding": 2, "tickSize": 4.5, "tickWidth": 1.1, "tickColor": "#000000", "domainColor": "#000000", "domainWidth": 1.1, "grid": false}},
        "y2": {"field": "y2"}
       }},
      {"data": {"name": "labels"}, "transform": [{"filter": "datum.panel === 'B'"}],
       "mark": {"type": "text", "fontSize": 15, "baseline": "alphabetic", "color": "#333333"},
       "encoding": {
        "x": {"field": "x", "type": "quantitative", "axis": {"orient": "top", "labels": false, "ticks": false, "domain": false, "grid": false, "title": "Day 7", "titleX": 69, "titleY": -15, "titleAngle": 0, "titleAlign": "center", "titleBaseline": "alphabetic", "titleFontSize": 16, "titleFontWeight": "bold"}},
        "y": {"field": "y", "type": "quantitative", "axis": {"title": "Inverse Simpson", "titleFontSize": 16, "titlePadding": 3, "values": [100, 200, 300, 400, 500, 600, 700], "tickCount": 7, "format": "d", "labelOverlap": false, "labelFontSize": 14, "labelPadding": 2, "tickSize": 4.5, "tickWidth": 1.1, "tickColor": "#000000", "domainColor": "#000000", "domainWidth": 1.1, "grid": false}},
        "text": {"field": "label"}
       }}
     ]}
    ]
   },
   {
    "width": 172, "height": 169,
    "view": {"stroke": null},
    "resolve": {"scale": {"x": "independent"}},
    "layer": [
     {"layer": [
      {"data": {"name": "boxes"}, "transform": [{"filter": "datum.panel === 'D'"}],
       "mark": {"type": "rule", "strokeWidth": 1.3},
       "encoding": {
        "x": {"field": "group", "type": "nominal", "scale": {"domain": ["WT−Veh", "WT−NR", "AD−Veh", "AD−NR"], "paddingInner": 0.25, "paddingOuter": 0.225},
              "axis": {"title": "D", "titleX": -64, "titleY": -194, "titleAngle": 0, "titleAlign": "left", "titleBaseline": "top", "titleFontSize": 11, "titleFontWeight": "bold", "labelAngle": -45, "labelAlign": "right", "labelBaseline": "top", "labelFontSize": 14, "labelPadding": 2, "tickSize": 4.5, "tickWidth": 1.1, "tickColor": "#000000", "domainColor": "#000000", "domainWidth": 1.1}},
        "y": {"field": "lower", "type": "quantitative", "scale": {"domain": [70, 730], "nice": false, "zero": false},
              "axis": {"title": "Inverse Simpson", "titleFontSize": 16, "titlePadding": 3, "values": [100, 200, 300, 400, 500, 600, 700], "tickCount": 7, "format": "d", "labelOverlap": false, "labelFontSize": 14, "labelPadding": 2, "tickSize": 4.5, "tickWidth": 1.1, "tickColor": "#000000", "domainColor": "#000000", "domainWidth": 1.1, "grid": false}},
        "y2": {"field": "upper"},
        "stroke": {"field": "group", "type": "nominal", "scale": {"domain": ["WT−Veh", "WT−NR", "AD−Veh", "AD−NR"], "range": ["#868686", "#EFC000", "#CD534C", "#0073C2"]}}
       }},
      {"data": {"name": "boxes"}, "transform": [{"filter": "datum.panel === 'D'"}],
       "mark": {"type": "bar", "fill": "#ffffff", "strokeWidth": 1.3},
       "encoding": {
        "x": {"field": "group", "type": "nominal"},
        "y": {"field": "q1", "type": "quantitative", "axis": {"title": "Inverse Simpson", "titleFontSize": 16, "titlePadding": 3, "values": [100, 200, 300, 400, 500, 600, 700], "tickCount": 7, "format": "d", "labelOverlap": false, "labelFontSize": 14, "labelPadding": 2, "tickSize": 4.5, "tickWidth": 1.1, "tickColor": "#000000", "domainColor": "#000000", "domainWidth": 1.1, "grid": false}},
        "y2": {"field": "q3"},
        "stroke": {"field": "group", "type": "nominal",
                   "legend": {"orient": "none", "legendX": 197, "legendY": 16.5, "title": "Group", "titleFontSize": 15, "titlePadding": 10, "labelFontSize": 12.5, "labelOffset": 11, "rowPadding": 5.7, "symbolType": "M-0.95,-0.55H0.95V0.55H-0.95Z M0,-1V-0.55 M0,0.55V1 M-0.95,0H0.95 M0.42,0A0.42,0.42 0 1,1 -0.42,0A0.42,0.42 0 1,1 0.42,0Z", "symbolSize": 361, "symbolStrokeWidth": 1.2, "symbolFillColor": "#ffffff"}}
       }},
      {"data": {"name": "boxes"}, "transform": [{"filter": "datum.panel === 'D'"}],
       "mark": {"type": "bar", "fillOpacity": 0, "strokeWidth": 2.6},
       "encoding": {
        "x": {"field": "group", "type": "nominal"},
        "y": {"field": "med", "type": "quantitative", "axis": {"title": "Inverse Simpson", "titleFontSize": 16, "titlePadding": 3, "values": [100, 200, 300, 400, 500, 600, 700], "tickCount": 7, "format": "d", "labelOverlap": false, "labelFontSize": 14, "labelPadding": 2, "tickSize": 4.5, "tickWidth": 1.1, "tickColor": "#000000", "domainColor": "#000000", "domainWidth": 1.1, "grid": false}},
        "y2": {"field": "med"},
        "stroke": {"field": "group", "type": "nominal"}
       }},
      {"data": {"name": "points"}, "transform": [{"filter": "datum.panel === 'D' && datum.kind === 'out'"}],
       "mark": {"type": "point", "filled": false, "size": 10, "strokeWidth": 3.2, "opacity": 1},
       "encoding": {
        "x": {"field": "group", "type": "nominal"},
        "y": {"field": "value", "type": "quantitative", "axis": {"title": "Inverse Simpson", "titleFontSize": 16, "titlePadding": 3, "values": [100, 200, 300, 400, 500, 600, 700], "tickCount": 7, "format": "d", "labelOverlap": false, "labelFontSize": 14, "labelPadding": 2, "tickSize": 4.5, "tickWidth": 1.1, "tickColor": "#000000", "domainColor": "#000000", "domainWidth": 1.1, "grid": false}},
        "stroke": {"field": "group", "type": "nominal"}
       }},
      {"data": {"name": "points"}, "transform": [{"filter": "datum.panel === 'D' && datum.kind === 'obs'"}],
       "mark": {"type": "point", "filled": false, "size": 40, "strokeWidth": 1.1, "opacity": 1},
       "encoding": {
        "x": {"field": "group", "type": "nominal"},
        "y": {"field": "value", "type": "quantitative", "axis": {"title": "Inverse Simpson", "titleFontSize": 16, "titlePadding": 3, "values": [100, 200, 300, 400, 500, 600, 700], "tickCount": 7, "format": "d", "labelOverlap": false, "labelFontSize": 14, "labelPadding": 2, "tickSize": 4.5, "tickWidth": 1.1, "tickColor": "#000000", "domainColor": "#000000", "domainWidth": 1.1, "grid": false}},
        "stroke": {"field": "group", "type": "nominal"}
       }}
     ]},
     {"layer": [
      {"data": {"name": "brackets"}, "transform": [{"filter": "datum.panel === 'D'"}],
       "mark": {"type": "rule", "color": "#444444", "strokeWidth": 1},
       "encoding": {
        "x": {"field": "x", "type": "quantitative", "scale": {"domain": [0.4, 4.6], "nice": false, "zero": false},
              "axis": {"orient": "top", "labels": false, "ticks": false, "domain": false, "grid": false, "title": "Day 56", "titleX": 91.5, "titleY": -13, "titleAngle": 0, "titleAlign": "center", "titleBaseline": "alphabetic", "titleFontSize": 16, "titleFontWeight": "bold"}},
        "x2": {"field": "x2"},
        "y": {"field": "y", "type": "quantitative", "scale": {"domain": [70, 730], "nice": false, "zero": false}, "axis": {"title": "Inverse Simpson", "titleFontSize": 16, "titlePadding": 3, "values": [100, 200, 300, 400, 500, 600, 700], "tickCount": 7, "format": "d", "labelOverlap": false, "labelFontSize": 14, "labelPadding": 2, "tickSize": 4.5, "tickWidth": 1.1, "tickColor": "#000000", "domainColor": "#000000", "domainWidth": 1.1, "grid": false}},
        "y2": {"field": "y2"}
       }},
      {"data": {"name": "labels"}, "transform": [{"filter": "datum.panel === 'D'"}],
       "mark": {"type": "text", "fontSize": 15, "baseline": "alphabetic", "color": "#333333"},
       "encoding": {
        "x": {"field": "x", "type": "quantitative", "axis": {"orient": "top", "labels": false, "ticks": false, "domain": false, "grid": false, "title": "Day 56", "titleX": 91.5, "titleY": -13, "titleAngle": 0, "titleAlign": "center", "titleBaseline": "alphabetic", "titleFontSize": 16, "titleFontWeight": "bold"}},
        "y": {"field": "y", "type": "quantitative", "axis": {"title": "Inverse Simpson", "titleFontSize": 16, "titlePadding": 3, "values": [100, 200, 300, 400, 500, 600, 700], "tickCount": 7, "format": "d", "labelOverlap": false, "labelFontSize": 14, "labelPadding": 2, "tickSize": 4.5, "tickWidth": 1.1, "tickColor": "#000000", "domainColor": "#000000", "domainWidth": 1.1, "grid": false}},
        "text": {"field": "label"}
       }}
     ]}
    ]
   }
  ]
 }
 ]
 },
 {
  "spacing": 20,
  "resolve": {"scale": {"color": "independent", "stroke": "independent"}, "legend": {"color": "independent", "stroke": "independent"}},
  "hconcat": [
   {
    "title": {"text": "E", "anchor": "start", "frame": "bounds", "offset": -11, "dx": 0, "fontSize": 11, "fontWeight": "bold"},
    "resolve": {"scale": {"color": "independent", "stroke": "independent"}, "legend": {"color": "independent", "stroke": "independent"}},
    "vconcat": [
     {
      "width": 234, "height": 235,
      "title": {"text": "Day 7", "frame": "group", "offset": 11, "dx": -11},
      "view": {"stroke": "#555555", "strokeWidth": 1},
      "resolve": {"axis": {"x": "independent", "y": "independent"}},
      "layer": [
       {"data": {"name": "ellipse"}, "transform": [{"filter": "datum.panel === 'E'"}],
        "mark": {"type": "line", "interpolate": "cardinal-closed", "strokeDash": [5, 4], "strokeWidth": 1.3},
        "encoding": {
         "x": {"field": "x", "type": "quantitative", "scale": {"domain": [-0.275, 0.6], "nice": false, "zero": false},
               "axis": {"orient": "top", "values": [-0.1, 0.1, 0.3, 0.5], "grid": true, "gridColor": "#EFEFEF", "gridWidth": 0.7, "labels": false, "ticks": false, "domain": false, "title": "18.5% of variance; P = 0.002", "titleAnchor": "start", "titleAlign": "left", "titleFontSize": 14, "titlePadding": 3}},
         "y": {"field": "y", "type": "quantitative", "scale": {"domain": [-0.475, 0.366], "nice": false, "zero": false},
               "axis": {"orient": "right", "values": [0.3, 0.1, -0.1, -0.3], "grid": true, "gridColor": "#EFEFEF", "gridWidth": 0.7, "labels": false, "ticks": false, "domain": false, "title": null}},
         "color": {"field": "group", "type": "nominal", "scale": {"domain": ["WT−Veh", "WT−NR", "AD−Veh", "AD−NR"], "range": ["#868686", "#EFC000", "#CD534C", "#0073C2"]}, "legend": null},
         "order": {"field": "i", "type": "quantitative"}
        }},
       {"data": {"name": "pcoa"}, "transform": [{"filter": "datum.panel === 'E'"}],
        "mark": {"type": "point", "filled": true, "size": 20, "opacity": 1},
        "encoding": {
         "x": {"field": "x", "type": "quantitative",
               "axis": {"values": [-0.2, 0, 0.2, 0.4, 0.6], "format": ".1f", "grid": true, "gridColor": "#E3E3E3", "gridWidth": 1.1, "domain": false, "tickSize": 3.5, "tickColor": "#333333", "labelFontSize": 14, "labelPadding": 3, "title": "cPCoA 1 (44.2%)", "titleFontSize": 17, "titlePadding": 12}},
         "y": {"field": "y", "type": "quantitative",
               "axis": {"values": [-0.4, -0.2, 0, 0.2], "format": ".1f", "grid": true, "gridColor": "#E3E3E3", "gridWidth": 1.1, "domain": false, "tickSize": 3.5, "tickColor": "#333333", "labelFontSize": 14, "labelPadding": 2, "title": "cPCoA 2 (28.88%)", "titleFontSize": 16.5, "titlePadding": -5}},
         "color": {"field": "group", "type": "nominal", "legend": null}
        }}
      ]
     }
    ]
   },
   {
    "title": {"text": "F", "anchor": "start", "frame": "bounds", "offset": -11, "dx": -14, "fontSize": 11, "fontWeight": "bold"},
    "resolve": {"scale": {"color": "independent", "stroke": "independent"}, "legend": {"color": "independent", "stroke": "independent"}},
    "vconcat": [
     {
      "width": 231, "height": 233,
      "title": {"text": "Day 56", "frame": "group", "offset": 11, "dx": -19.5},
      "view": {"stroke": "#555555", "strokeWidth": 1},
      "resolve": {"axis": {"x": "independent", "y": "independent"}},
      "layer": [
       {"data": {"name": "ellipse"}, "transform": [{"filter": "datum.panel === 'F'"}],
        "mark": {"type": "line", "interpolate": "cardinal-closed", "strokeDash": [5, 4], "strokeWidth": 1.3},
        "encoding": {
         "x": {"field": "x", "type": "quantitative", "scale": {"domain": [-0.233, 0.621], "nice": false, "zero": false},
               "axis": {"orient": "top", "values": [-0.1, 0.1, 0.3, 0.5], "grid": true, "gridColor": "#EFEFEF", "gridWidth": 0.7, "labels": false, "ticks": false, "domain": false, "title": "20.1% of variance; P = 0.001", "titleAnchor": "start", "titleAlign": "left", "titleFontSize": 14, "titlePadding": 3}},
         "y": {"field": "y", "type": "quantitative", "scale": {"domain": [-0.507, 0.387], "nice": false, "zero": false},
               "axis": {"orient": "right", "values": [0.3, 0.1, -0.1, -0.3, -0.5], "grid": true, "gridColor": "#EFEFEF", "gridWidth": 0.7, "labels": false, "ticks": false, "domain": false, "title": null}},
         "color": {"field": "group", "type": "nominal", "scale": {"domain": ["WT−Veh", "WT−NR", "AD−Veh", "AD−NR"], "range": ["#868686", "#EFC000", "#CD534C", "#0073C2"]}},
         "order": {"field": "i", "type": "quantitative"}
        }},
       {"data": {"name": "pcoa"}, "transform": [{"filter": "datum.panel === 'F'"}],
        "mark": {"type": "point", "filled": true, "size": 20, "opacity": 1},
        "encoding": {
         "x": {"field": "x", "type": "quantitative",
               "axis": {"values": [-0.2, 0, 0.2, 0.4, 0.6], "format": ".1f", "grid": true, "gridColor": "#E3E3E3", "gridWidth": 1.1, "domain": false, "tickSize": 3.5, "tickColor": "#333333", "labelFontSize": 14, "labelPadding": 3, "title": "cPCoA 1 (39.19%)", "titleFontSize": 17, "titlePadding": 6}},
         "y": {"field": "y", "type": "quantitative",
               "axis": {"values": [-0.4, -0.2, 0, 0.2], "format": ".1f", "grid": true, "gridColor": "#E3E3E3", "gridWidth": 1.1, "domain": false, "tickSize": 3.5, "tickColor": "#333333", "labelFontSize": 14, "labelPadding": 2, "title": "cPCoA 2 (33.21%)", "titleFontSize": 16.5, "titlePadding": -5}},
         "color": {"field": "group", "type": "nominal",
                   "legend": {"orient": "none", "legendX": 245, "legendY": 95, "title": null, "labelFontSize": 12.5, "labelOffset": 8, "rowPadding": 4, "symbolType": "M-1,-0.09H-0.45V0.09H-1Z M0.45,-0.09H1V0.09H0.45Z M0.3,0A0.3,0.3 0 1,1 -0.3,0A0.3,0.3 0 1,1 0.3,0Z", "symbolSize": 256}}
        }}
      ]
     }
    ]
   }
  ]
 }
]
}
